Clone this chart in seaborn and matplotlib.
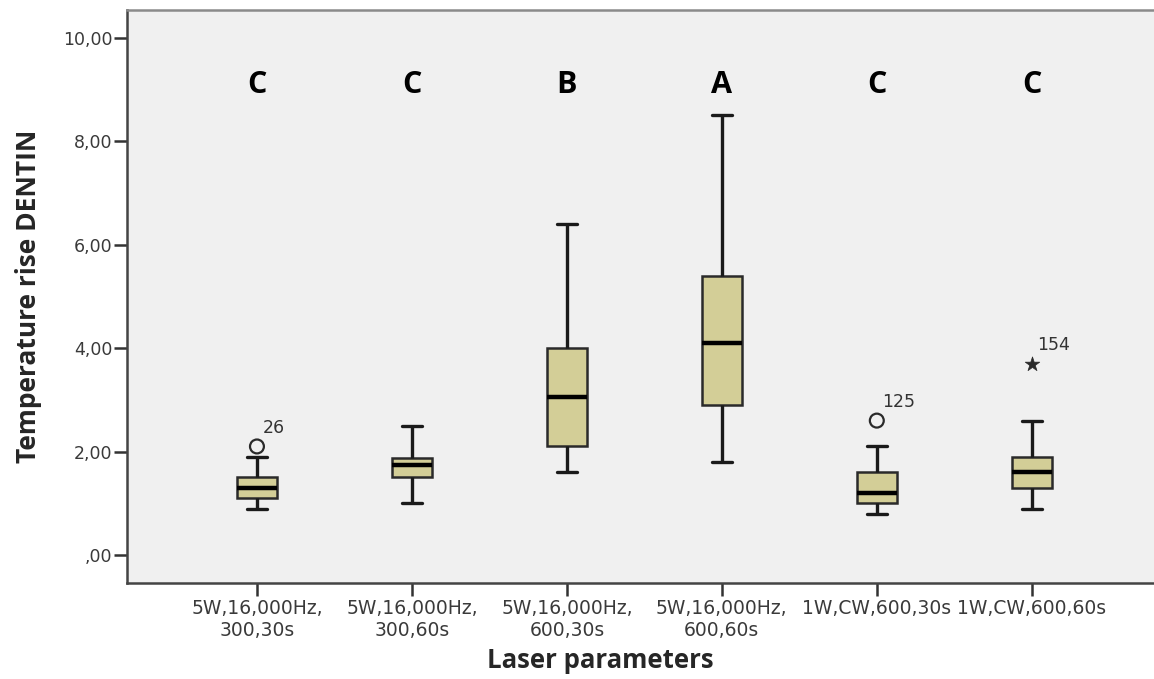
import matplotlib
matplotlib.use("Agg")
import matplotlib.pyplot as plt
import numpy as np
import pandas as pd
import seaborn as sns

# ---------------------------------------------------------------------------
# Data (five-number summary per group)
# ---------------------------------------------------------------------------
groups = [
    "5W,16,000Hz,\n300,30s",
    "5W,16,000Hz,\n300,60s",
    "5W,16,000Hz,\n600,30s",
    "5W,16,000Hz,\n600,60s",
    "1W,CW,600,30s",
    "1W,CW,600,60s",
]
whisker_low = [0.90, 1.00, 1.60, 1.80, 0.80, 0.90]
q1 = [1.10, 1.50, 2.10, 2.90, 1.00, 1.30]
median = [1.30, 1.75, 3.05, 4.10, 1.20, 1.60]
q3 = [1.50, 1.88, 4.00, 5.40, 1.60, 1.90]
whisker_high = [1.90, 2.50, 6.40, 8.50, 2.10, 2.60]

letters = ["C", "C", "B", "A", "C", "C"]

outlier_group = ["5W,16,000Hz,\n300,30s", "1W,CW,600,30s", "1W,CW,600,60s"]
outlier_value = [2.10, 2.60, 3.70]
outlier_case = ["26", "125", "154"]
outlier_marker = ["o", "o", "*"]

yticks = [0, 2, 4, 6, 8, 10]

# ---------------------------------------------------------------------------
# Long-form table: five values per group reproduce the quartiles exactly
# ---------------------------------------------------------------------------
rows = []
for i, g in enumerate(groups):
    for v in (whisker_low[i], q1[i], median[i], q3[i], whisker_high[i]):
        rows.append({"group": g, "value": v})
df = pd.DataFrame(rows)

sns.set_style("white")
plt.rcParams["font.family"] = ["DejaVu Sans"]

fig = plt.figure(figsize=(11.54, 6.79), dpi=100)
ax = fig.add_axes([0.110, 0.1414, 0.895, 0.8439])
ax.set_facecolor("#F0F0F0")

sns.boxplot(
    data=df, x="group", y="value", order=groups, ax=ax,
    whis=(0, 100), showfliers=False, width=0.26,
    color="#D3CE97", saturation=1,
    linewidth=2.4, linecolor="#1a1a1a",
    boxprops={"edgecolor": "#2a2a2a", "linewidth": 1.8},
    medianprops={"color": "black", "linewidth": 3.2},
    capwidths=0.13,
)

# outliers and extreme values with their case numbers
for g, v, case, m in zip(outlier_group, outlier_value, outlier_case, outlier_marker):
    xpos = groups.index(g)
    if m == "o":
        ax.scatter([xpos], [v], s=100, marker="o", facecolors="none",
                   edgecolors="#2a2a2a", linewidths=1.6, zorder=5)
    else:
        ax.scatter([xpos], [v], s=120, marker="*", color="#2a2a2a",
                   linewidths=0.5, zorder=5)
    ax.annotate(case, (xpos, v), xytext=(4, 7), textcoords="offset points",
                fontsize=12.5, color="#333333", ha="left", va="bottom")

# significance letters
for i, lt in enumerate(letters):
    ax.text(i, 9.09, lt, ha="center", va="center", fontsize=22,
            fontweight="bold", color="black", family=["Open Sans", "DejaVu Sans"])

ax.set_xlim(-0.839, 5.826)
ax.set_ylim(-0.54, 10.54)
ax.set_yticks(yticks)
ax.set_yticklabels([("%.2f" % t).replace(".", ",").lstrip("0") if t == 0
                    else ("%.2f" % t).replace(".", ",") for t in yticks])
ax.tick_params(axis="both", which="both", direction="out", length=9.5, width=1.8,
               color="#333333", labelcolor="#3a3a3a", labelsize=12.5, pad=1,
               left=True, bottom=True)
ax.tick_params(axis="x", labelsize=13.5, pad=2)

for side in ("left", "bottom", "right", "top"):
    ax.spines[side].set_color("#444444")
    ax.spines[side].set_linewidth(1.8)
ax.spines["top"].set_color("#8a8a8a")

ax.set_xlabel("Laser parameters", fontsize=18.5, fontweight="bold",
              family=["Open Sans", "DejaVu Sans"])
ax.xaxis.set_label_coords(0.458, -0.112)
ax.set_ylabel("Temperature rise DENTIN", fontsize=19, fontweight="bold",
              family=["Open Sans", "DejaVu Sans"])
ax.yaxis.set_label_coords(-0.082, 0.5)

fig.savefig("out.png", dpi=100)
